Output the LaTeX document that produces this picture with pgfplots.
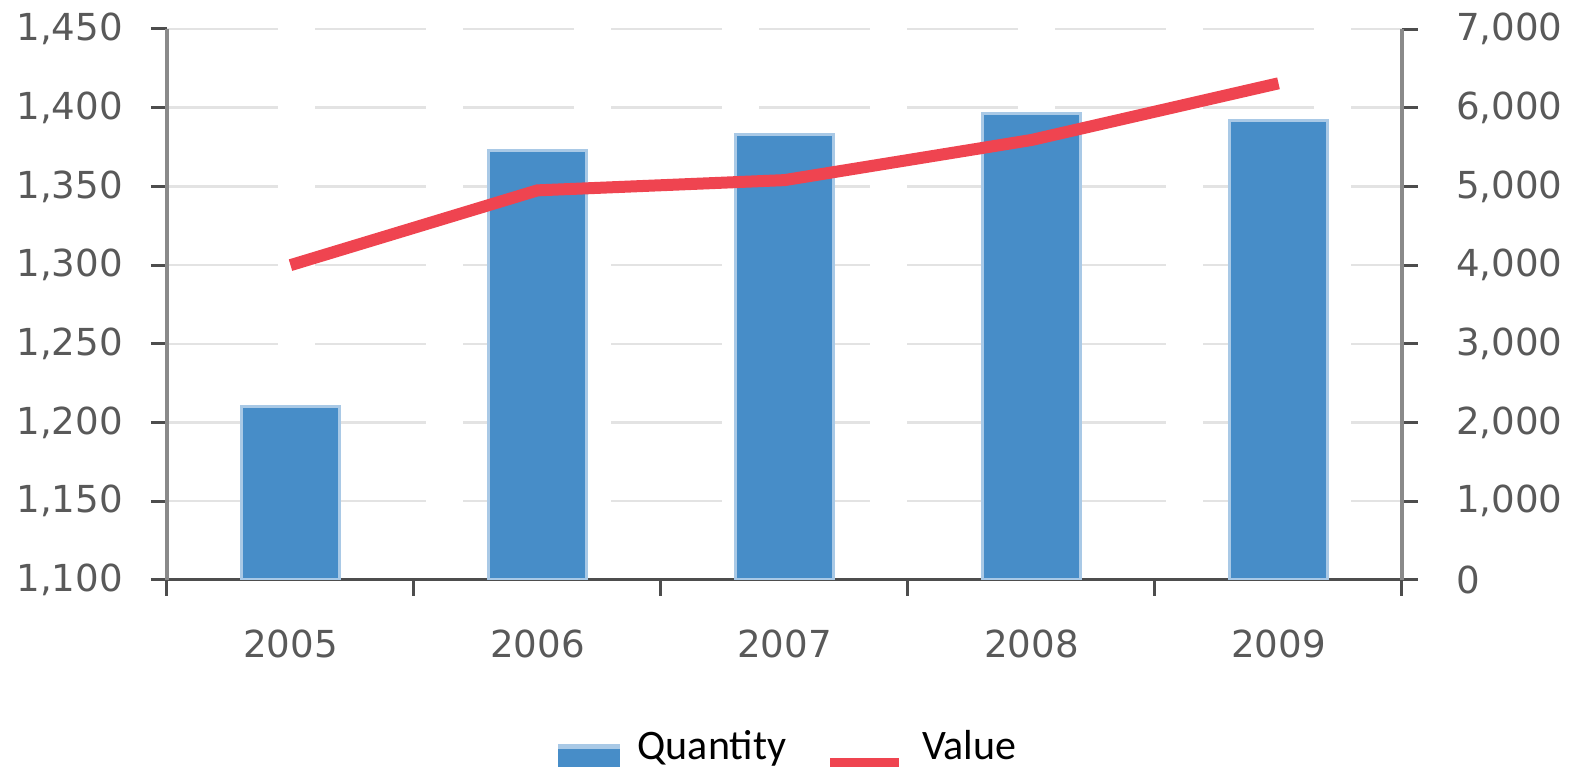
\documentclass[border=0pt]{standalone}
\usepackage{fontspec}
\setmainfont{DejaVu Sans}
\newfontfamily\legfont{Carlito}
\usepackage{pgfplots}
\usepackage{pgfplotstable}
\pgfplotsset{compat=1.18}

\definecolor{barblue}{HTML}{478DC8}
\definecolor{baredge}{HTML}{A9C9E6}
\definecolor{valred}{HTML}{EF4450}
\definecolor{gridgray}{HTML}{E3E3E3}
\definecolor{ticktext}{HTML}{595959}
\definecolor{axisgray}{HTML}{8A8A8A}
\definecolor{basegray}{HTML}{4D4D4D}

\pgfplotstableread{
x qty value
0 1210 4000
1 1373 4950
2 1383 5080
3 1396 5590
4 1392 6310
}\data

\pgfplotsset{
  common/.style={
    width=308.75pt, height=137.75pt, scale only axis,
    xmin=-0.5, xmax=4.5,
    tick label style={font=\fontsize{9.3}{11}\selectfont, text=ticktext},
    /pgf/number format/assume math mode=true,
    /pgf/number format/1000 sep={,},
    tick align=outside,
    major tick length=4pt,
    minor tick length=4pt,
  }
}

\begin{document}
\begin{tikzpicture}
\begin{axis}[common,
  ymin=1100, ymax=1450, ytick={1100,1150,...,1450},
  axis y line*=left, axis x line*=bottom,
  x axis line style={-, basegray, line width=0.75pt},
  y axis line style={-, axisgray, line width=1pt},
  ymajorgrids,
  grid style={gridgray, line width=0.6pt, dash pattern=on 27.75pt off 9.25pt},
  xtick={0,...,4}, xticklabels={2005,2006,2007,2008,2009},
  minor xtick={-0.5,0.5,...,4.5},
  major x tick style={draw=none},
  minor x tick style={basegray, line width=0.75pt},
  major y tick style={basegray, line width=0.75pt},
  xticklabel style={yshift=-5pt},
  yticklabel style={xshift=-3.5pt},
]
\coordinate (O) at (rel axis cs:0,0);
\addplot[ybar, bar width=0.4, fill=barblue, draw=baredge, line width=0.75pt]
  table[x=x, y=qty]{\data};
\end{axis}

\begin{axis}[common,
  ymin=0, ymax=7000, ytick={0,1000,...,7000},
  axis y line*=right, axis x line=none,
  y axis line style={-, axisgray, line width=1pt},
  major y tick style={basegray, line width=0.75pt},
  yticklabel style={xshift=6pt},
  legend style={at={(axis description cs:0.316,-0.307)}, anchor=west,
    draw=none, fill=none, inner sep=0pt,
    font=\legfont\fontsize{10.5}{12}\selectfont,
    /tikz/every odd column/.append style={column sep=2.5pt},
    /tikz/every even column/.append style={column sep=7.75pt}},
  legend columns=2,
]
\addlegendimage{legend image code/.code={
  \fill[barblue] (0pt,-6.75pt) rectangle (15pt,0.75pt);
  \fill[baredge] (0pt,0pt) rectangle (15pt,0.75pt);}}
\addlegendentry{Quantity}
\addplot[valred, line width=3pt,
  legend image code/.code={\draw[valred, line width=2.5pt] (0pt,-3.75pt) -- (17.25pt,-3.75pt);}]
  table[x=x, y=value]{\data};
\addlegendentry{Value}
\end{axis}
\pgfresetboundingbox
\path ([shift={(-41.75pt,-46.75pt)}]O) rectangle ([shift={(352.25pt,145pt)}]O);
\end{tikzpicture}
\end{document}
